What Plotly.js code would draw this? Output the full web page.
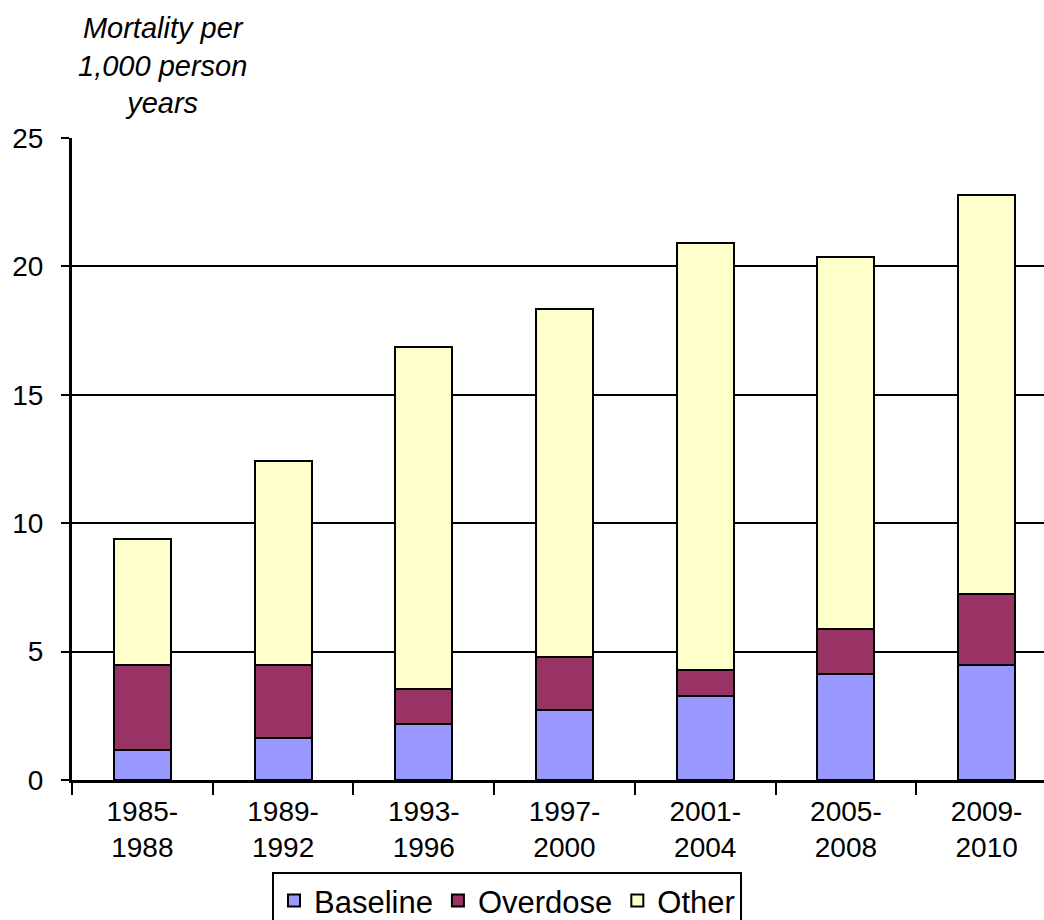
<!DOCTYPE html>
<html><head><meta charset="utf-8">
<script src="https://cdn.plot.ly/plotly-3.0.1.min.js"></script>
<style>html,body{margin:0;background:#fff;overflow:hidden}#c{width:1060px;height:920px}</style>
</head><body><div id="c"></div>
<script>
const categories = ["1985-<br>1988","1989-<br>1992","1993-<br>1996","1997-<br>2000","2001-<br>2004","2005-<br>2008","2009-<br>2010"];
const baseline = [1.17, 1.64, 2.18, 2.73, 3.27, 4.13, 4.48];
const overdose = [3.31, 2.84, 1.36, 2.06, 1.01, 1.75, 2.76];
const other = [4.90, 7.94, 13.32, 13.55, 16.63, 14.49, 15.54];
const yTicks = [0, 5, 10, 15, 20, 25];

const line = {color: '#000', width: 2};
const traces = [
  {type:'bar', name:'Baseline', x:categories, y:baseline, marker:{color:'#9999ff', line:line}},
  {type:'bar', name:'Overdose', x:categories, y:overdose, marker:{color:'#993366', line:line}},
  {type:'bar', name:'Other', x:categories, y:other, marker:{color:'#ffffcc', line:line}}
];
const font = {family:'Liberation Sans, Arial, sans-serif', size:28, color:'#000'};
const PW = 985;
const layout = {
  width:1060, height:920, barmode:'stack', bargap:0.595,
  margin:{l:72, r:3, t:138, b:140, autoexpand:false},
  paper_bgcolor:'#fff', plot_bgcolor:'#fff',
  font: font,
  showlegend:true,
  legend:{orientation:'h', x:(507-72)/PW, xanchor:'center', y:-0.143, yanchor:'top',
    bordercolor:'#000', borderwidth:2, font:{family:font.family, size:31, color:'#000'},
    traceorder:'normal', itemwidth:30, tracegroupgap:0},
  xaxis:{type:'category', showline:true, linecolor:'#000', linewidth:3, automargin:false,
    ticks:'outside', tickson:'boundaries', ticklen:12, tickwidth:2, tickcolor:'#000',
    showgrid:false, tickfont:font, zeroline:false, ticklabelstandoff:4},
  yaxis:{range:[0,25], tickvals:yTicks, ticktext:yTicks.map(String), showline:true, linecolor:'#000', linewidth:3,
    automargin:false, ticks:'outside', ticklen:8, tickwidth:2, tickcolor:'#000', ticklabelstandoff:12,
    showgrid:true, gridcolor:'#000', gridwidth:1.5, zeroline:false, tickfont:font},
  annotations:[{text:'<i>Mortality per<br>1,000 person<br>years</i>', xref:'paper', yref:'paper',
    x:(162-72)/PW, y:(780-10)/642, xanchor:'center', yanchor:'top', showarrow:false,
    font:{family:font.family, size:29, color:'#000'}, align:'center'}]
};
Plotly.newPlot('c', traces, layout, {displayModeBar:false});
</script>
</body></html>
